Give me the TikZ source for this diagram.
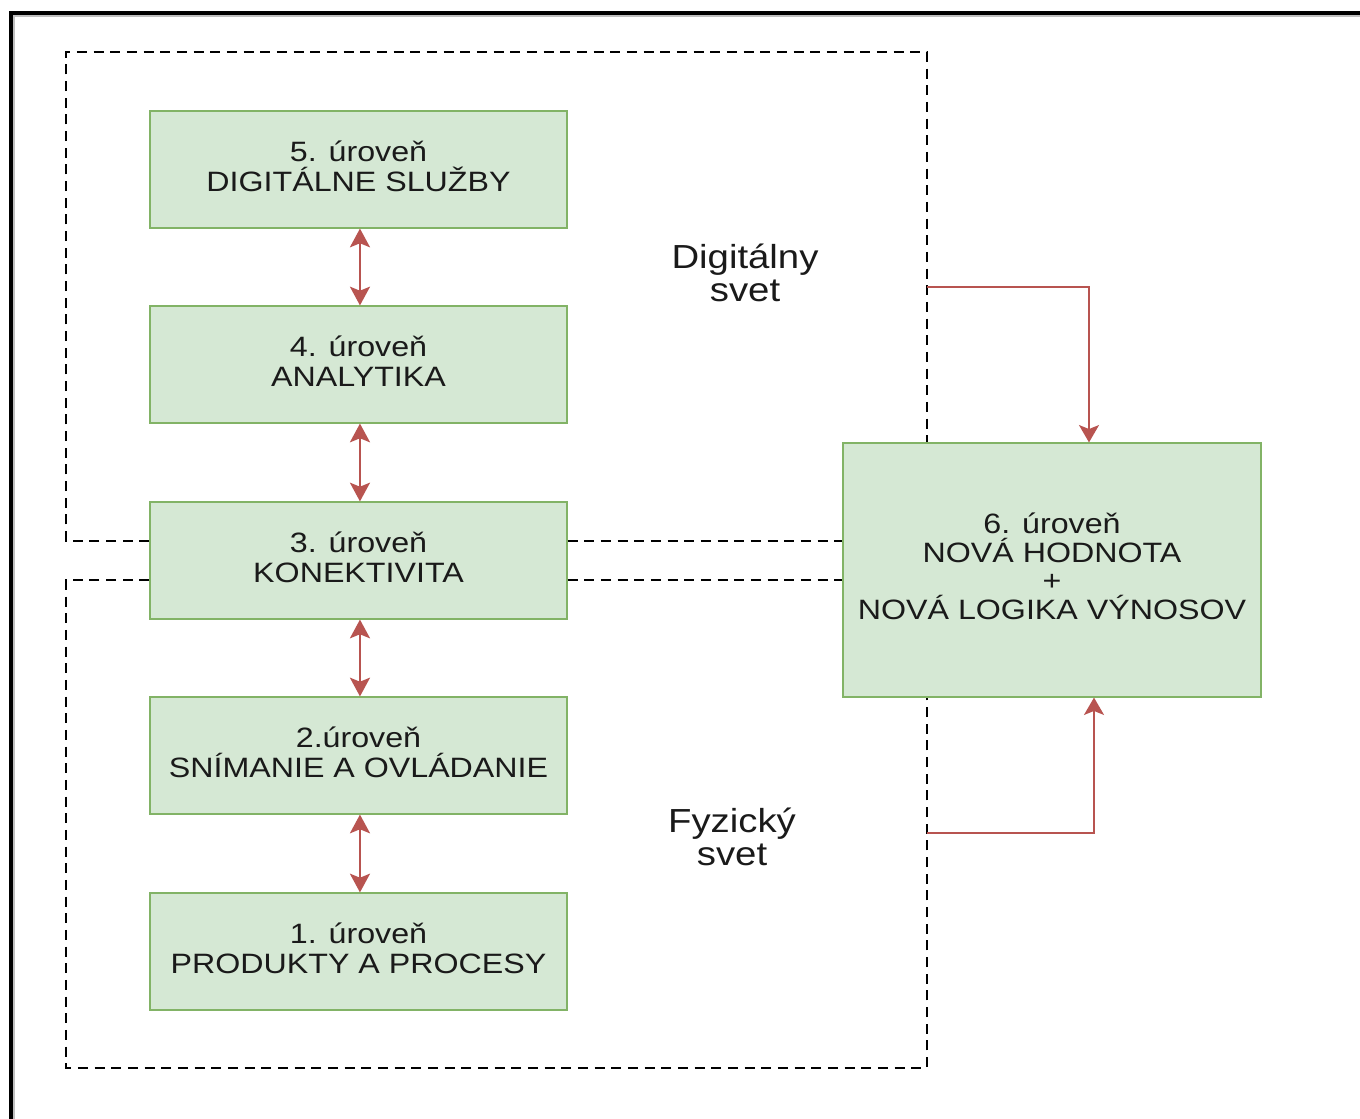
\documentclass[tikz,border=0pt]{standalone}
\usepackage{fontspec}
\setmainfont{Liberation Sans}[FakeStretch=1.15]
\usetikzlibrary{arrows.meta}
\definecolor{boxfill}{HTML}{D5E8D4}
\definecolor{boxline}{HTML}{82B366}
\definecolor{linkred}{HTML}{B85450}
\definecolor{txt}{HTML}{1A1A1A}
\tikzset{
  level/.style={draw=boxline, fill=boxfill, line width=0.9pt,
    minimum width=312.75pt, minimum height=87.75pt, inner sep=0pt,
    text depth=4.4pt,
    align=center, text=txt, font=\fontsize{21pt}{22.5pt}\selectfont},
  bigbox/.style={level, minimum width=313.5pt, minimum height=190.5pt,
    text depth=6pt, font=\fontsize{21pt}{21.4pt}\selectfont},
  zone/.style={draw=black, line width=1.8pt, dash pattern=on 7.5pt off 5pt},
  dbl/.style={draw=linkred, line width=1.9pt,
    {Stealth[length=14pt,width=15pt,inset=3pt]}-{Stealth[length=14pt,width=15pt,inset=3pt]}},
  feed/.style={draw=linkred, line width=1.4pt,
    -{Stealth[length=13pt,width=15pt,inset=3pt]}},
  worldlbl/.style={align=center, text=txt, font=\fontsize{25pt}{24.75pt}\selectfont},
}
\begin{document}
\begin{tikzpicture}[x=0.75pt, y=-0.75pt]
  \useasboundingbox (0,0) rectangle (1360,1119);
  \fill[white] (0,0) rectangle (1360,1119);

  % frame
  \draw[gray!50, line width=1pt] (14,1119) -- (14,16) -- (1360,16);
  \draw[black, line width=2.6pt] (11,1119) -- (11,13) -- (1360,13);

  % layer boxes
  \node[level] (b5) at (358.5,169.5) {5. úroveň\\DIGITÁLNE SLUŽBY};
  \node[level] (b4) at (358.5,364.5) {4. úroveň\\ANALYTIKA};
  \node[level] (b3) at (358.5,560.5) {3. úroveň\\KONEKTIVITA};
  \node[level] (b2) at (358.5,755.5) {2.úroveň\\SNÍMANIE A OVLÁDANIE};
  \node[level] (b1) at (358.5,951.5) {1. úroveň\\PRODUKTY A PROCESY};
  \node[bigbox] (b6) at (1052,570) {6. úroveň\\NOVÁ HODNOTA\\+\\NOVÁ LOGIKA VÝNOSOV};

  % zone corners
  \coordinate (dA) at (66,541);
  \coordinate (dB) at (66,52);
  \coordinate (dC) at (927,52);
  \coordinate (fA) at (66,580);
  \coordinate (fB) at (66,1068);
  \coordinate (fC) at (927,1068);

  % digital zone
  \draw[zone] (b3.west |- dA) -- (dA) -- (dB) -- (dC) -- (dC |- b6.north);
  \draw[zone] (b3.east |- dA) -- (b6.west |- dA);
  % physical zone
  \draw[zone] (b3.west |- fA) -- (fA) -- (fB) -- (fC) -- (fC |- b6.south);
  \draw[zone] (b3.east |- fA) -- (b6.west |- fA);

  % links between layers
  \draw[dbl] ([xshift=1.1pt]b5.south) -- ([xshift=1.1pt]b4.north);
  \draw[dbl] ([xshift=1.1pt]b4.south) -- ([xshift=1.1pt]b3.north);
  \draw[dbl] ([xshift=1.1pt]b3.south) -- ([xshift=1.1pt]b2.north);
  \draw[dbl] ([xshift=1.1pt]b2.south) -- ([xshift=1.1pt]b1.north);

  % feeds into level 6
  \coordinate (dOut) at (927,287);
  \coordinate (dTurn) at (1089,287);
  \draw[feed] (dOut) -- (dTurn) -- (dTurn |- b6.north);
  \coordinate (fOut) at (927,833);
  \coordinate (fTurn) at (1094,833);
  \draw[feed] (fOut) -- (fTurn) -- (fTurn |- b6.south);

  % zone labels
  \node[worldlbl] (dig) at (745,273) {Digitálny\\svet};
  \node[worldlbl] (fyz) at (732,837) {Fyzický\\svet};
\end{tikzpicture}
\end{document}
